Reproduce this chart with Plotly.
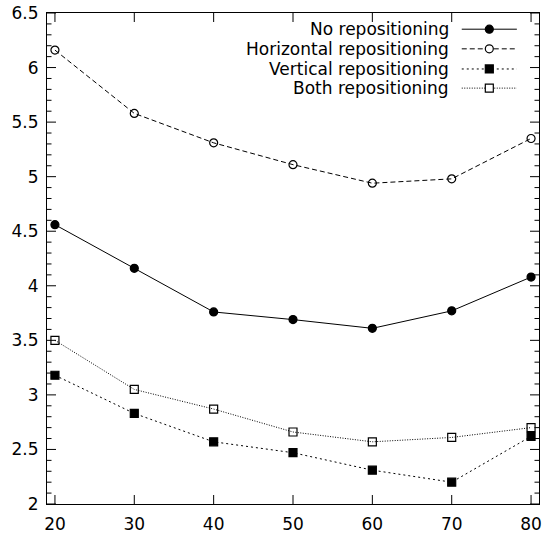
import numpy as np
import plotly.graph_objects as go

x_vals = [20, 30, 40, 50, 60, 70, 80]
no_repos = [4.56, 4.16, 3.76, 3.69, 3.61, 3.77, 4.08]
horiz_repos = [6.16, 5.58, 5.31, 5.11, 4.94, 4.98, 5.35]
vert_repos = [3.18, 2.83, 2.57, 2.47, 2.31, 2.20, 2.62]
both_repos = [3.50, 3.05, 2.87, 2.66, 2.57, 2.61, 2.70]
series_names = ["No repositioning", "Horizontal repositioning",
                "Vertical repositioning", "Both repositioning"]
x_ticks = [20, 30, 40, 50, 60, 70, 80]
y_ticks = [2, 2.5, 3, 3.5, 4, 4.5, 5, 5.5, 6, 6.5]

X_RANGE = [19, 81]
Y_RANGE = [2, 6.5]
PLOT_W, PLOT_H = 492, 491  # plot area size in pixels

styles = [
    dict(dash="solid", symbol="circle", size=8),
    dict(dash="5px,3px", symbol="circle-open", size=8),
    dict(dash="2px,3px", symbol="square", size=8),
    dict(dash="1px,1.5px", symbol="square-open", size=8),
]
series = [no_repos, horiz_repos, vert_repos, both_repos]

fig = go.Figure()

# gnuplot-style inward tick marks on all four sides, drawn through the axes
px_x = (X_RANGE[1] - X_RANGE[0]) / PLOT_W
px_y = (Y_RANGE[1] - Y_RANGE[0]) / PLOT_H
tx, ty = [], []
for xt in x_ticks:
    tx += [xt, xt, None, xt, xt, None]
    ty += [Y_RANGE[0], Y_RANGE[0] + 9 * px_y, None, Y_RANGE[1] - 9 * px_y, Y_RANGE[1], None]
minor_y = [v for v in np.round(np.arange(2.0, 6.5001, 0.1), 2) if v not in y_ticks]
for yv, ln in [(v, 9) for v in y_ticks] + [(float(v), 4.5) for v in minor_y]:
    tx += [X_RANGE[0], X_RANGE[0] + ln * px_x, None, X_RANGE[1] - ln * px_x, X_RANGE[1], None]
    ty += [yv, yv, None, yv, yv, None]
fig.add_trace(go.Scatter(x=tx, y=ty, mode="lines", showlegend=False, hoverinfo="skip",
                         line=dict(color="black", width=1)))

for name, ys, st in zip(series_names, series, styles):
    fig.add_trace(go.Scatter(
        x=x_vals, y=ys, mode="lines+markers", name=name, showlegend=False,
        line=dict(color="black", width=1, dash=st["dash"]),
        marker=dict(symbol=st["symbol"], size=st["size"], color="black",
                    line=dict(color="black", width=1.2)),
    ))

# gnuplot-style legend: text right-aligned, sample line + marker on the right
row_y = [0.967, 0.927, 0.886, 0.847]
for name, st, ry in zip(series_names, styles, row_y):
    fig.add_shape(type="line", xref="paper", yref="paper",
                  x0=0.843, x1=0.955, y0=ry, y1=ry,
                  line=dict(color="black", width=1, dash=st["dash"]))
    half = st["size"] / 2
    filled = st["symbol"] in ("circle", "square")
    fig.add_shape(type="circle" if "circle" in st["symbol"] else "rect",
                  xref="paper", yref="paper",
                  xsizemode="pixel", ysizemode="pixel",
                  xanchor=0.899, yanchor=ry,
                  x0=-half, x1=half, y0=-half, y1=half,
                  fillcolor="black" if filled else "white",
                  line=dict(color="black", width=1.2))
    fig.add_annotation(x=0.822, y=ry, xref="paper", yref="paper", text=name,
                       showarrow=False, xanchor="right", yanchor="middle",
                       font=dict(family="DejaVu Sans", size=17, color="black"))

axis_common = dict(showgrid=False, zeroline=False, showline=True, linecolor="black",
                   linewidth=1.2, mirror=True, ticks="", automargin=False,
                   tickfont=dict(family="DejaVu Sans", size=17, color="black"))
fig.update_layout(
    width=546, height=536,
    margin=dict(l=47, r=7, t=13, b=32),
    paper_bgcolor="white", plot_bgcolor="white",
    xaxis=dict(range=X_RANGE, tickvals=x_ticks, ticklabelstandoff=4, **axis_common),
    yaxis=dict(range=Y_RANGE, tickvals=y_ticks, ticktext=[f"{v:g}" for v in y_ticks],
               ticklabelstandoff=4, **axis_common),
)

fig.write_html("out.html", config={"displayModeBar": False},
               post_script="document.body.style.margin='0';")
